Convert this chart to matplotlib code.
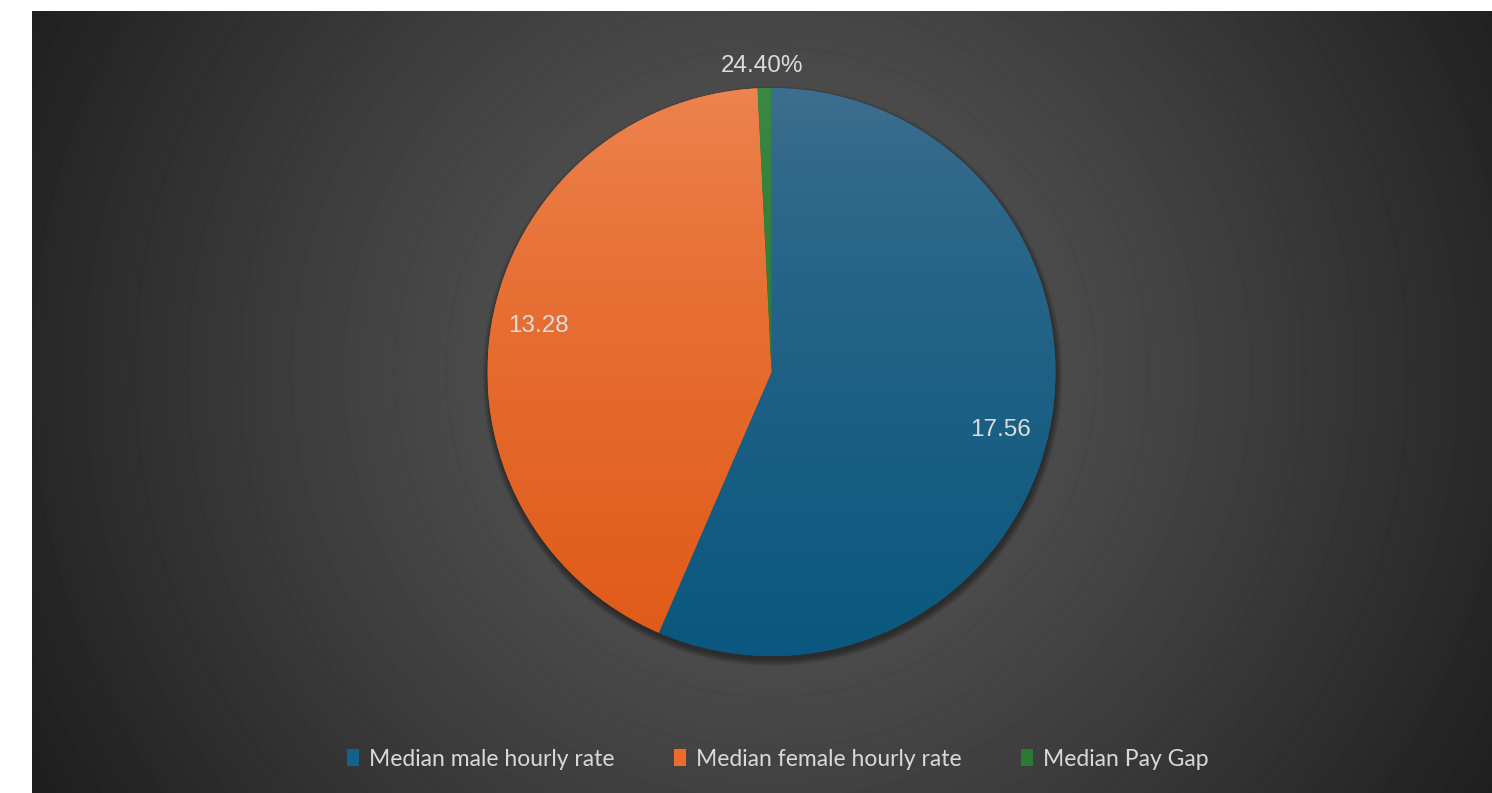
import numpy as np
import matplotlib
matplotlib.use("Agg")
import matplotlib.pyplot as plt
from matplotlib.patches import Patch, Circle
from matplotlib.colors import to_rgb

# data
labels = ["Median male hourly rate", "Median female hourly rate", "Median Pay Gap"]
values = [17.56, 13.28, 0.244]
value_text = ["17.56", "13.28", "24.40%"]
top_colors = ["#3f6f8f", "#ee8552", "#3a8a45"]
bottom_colors = ["#0a587f", "#e05a17", "#2a7032"]
legend_colors = ["#12628c", "#ee6c2a", "#2a7a33"]

W, H = 1492, 793
fig = plt.figure(figsize=(W / 100, H / 100), dpi=100)
fig.patch.set_facecolor("white")

# background panel with radial gradient
bg = fig.add_axes([32 / W, 0, (W - 32) / W, (H - 11) / H])
bg.set_axis_off()
cx, cy = 771.5, 372.0
xs = np.arange(32, W) + 0.5
ys = np.arange(11, H) + 0.5
X, Y = np.meshgrid(xs, ys)
R = np.hypot(X - cx, Y - cy)
t = np.clip((R - 280) / 560.0, 0, 1)
lum = 0.295 - 0.175 * t ** 1.1
rings = (np.sin(R / 52.0 * 2 * np.pi) > 0.97) * 0.006
lum = lum - rings
img = np.dstack([lum, lum, lum])
bg.imshow(img, extent=[32, W, H, 11], aspect="auto", interpolation="bilinear")

# main axes in pixel coords (y up)
ax = fig.add_axes([0, 0, 1, 1])
ax.patch.set_alpha(0)

pcx, pcy, rad = 771.5, H - 372.0, 284.0

# soft shadow
for i in range(12):
    ax.add_patch(Circle((pcx + 1, pcy - 4), rad + 6 - i * 0.6, color="black",
                        alpha=0.035, lw=0, zorder=1))

wedges, _ = ax.pie(values, startangle=90, counterclock=False, radius=rad,
                   center=(pcx, pcy), colors=legend_colors,
                   wedgeprops=dict(linewidth=0), frame=True)
ax.set_xlim(0, W)
ax.set_ylim(0, H)
ax.set_aspect("auto")
ax.set_axis_off()

# vertical gradient inside each wedge
grad = (np.linspace(0, 1, 256) ** 0.7)[:, None]
for w, ct, cb in zip(wedges, top_colors, bottom_colors):
    c1, c2 = np.array(to_rgb(ct)), np.array(to_rgb(cb))
    g = c1[None, None, :] * (1 - grad[:, :, None]) + c2[None, None, :] * grad[:, :, None]
    g = np.repeat(g, 2, axis=1)
    im = ax.imshow(g, extent=[pcx - rad, pcx + rad, pcy - rad, pcy + rad],
                   aspect="auto", origin="upper", zorder=3)
    im.set_clip_path(w)
    w.set_zorder(2)

# value labels
label_pos = [(1000, H - 430), (538, H - 326), (762, H - 66)]
for (x, y), s in zip(label_pos, value_text):
    ax.text(x, y, s, ha="center", va="center", color="#dcdcdc",
            fontsize=17.5, family="Liberation Sans", zorder=5)

handles = [Patch(facecolor=c, edgecolor="none") for c in legend_colors]
leg = fig.legend(handles, labels, loc="center", bbox_to_anchor=(778 / W, 1 - 759 / H),
                 ncol=3, frameon=False, handlelength=0.5,
                 handleheight=0.75, handletextpad=0.45, columnspacing=2.6,
                 prop=dict(family="Lato", size=16.5))
for txt in leg.get_texts():
    txt.set_color("#d9d9d9")

fig.savefig("out.png", dpi=100)
